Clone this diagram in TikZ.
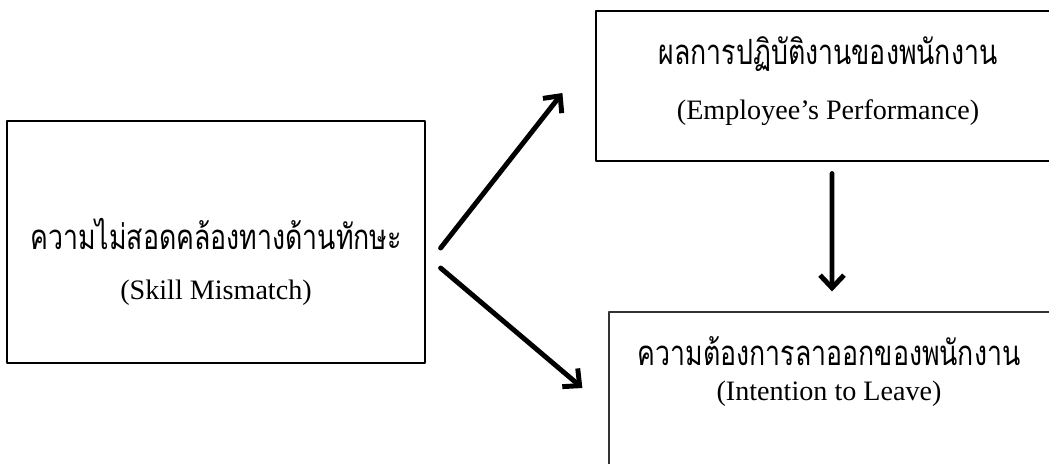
\documentclass[tikz,border=0pt]{standalone}
\usepackage{fontspec}
\usepackage{graphicx}
\setmainfont{Liberation Serif}
\newfontfamily\thaifont[Script=Thai]{Loma}
\newcommand{\thline}[1]{\scalebox{1}[1.3]{#1}}
\usetikzlibrary{arrows.meta,positioning}
\begin{document}
\begin{tikzpicture}[x=0.025cm, y=-0.025cm, line cap=round, line join=round,
    box/.style={draw, line width=0.8pt, inner sep=0pt},
    th/.style={font=\thaifont\fontsize{19}{22}\selectfont},
    en/.style={font=\fontsize{20}{24}\selectfont},
    link/.style={line width=3.5pt, -{Straight Barb[length=9pt,width=17pt]}}]
    \useasboundingbox (0,0) rectangle (1049,463);
    % boxes
    \node[box, minimum width=10.45cm, minimum height=6.05cm] (mismatch) at (216,242) {};
    \node[box, minimum width=11.6cm, minimum height=3.75cm] (perf) at (828,86) {};
    \node[box, draw=black!80, minimum width=11.025cm, minimum height=4.2cm] (leave) at (829.5,396) {};
    % labels
    \node[th] (mismatch-th) at (216,234) {\thline{ความไม่สอดคล้องทางด้านทักษะ}};
    \node[en] (mismatch-en) at (216,293) {(Skill Mismatch)};
    \node[th] (perf-th) at (828,54) {\thline{ผลการปฏิบัติงานของพนักงาน}};
    \node[en] (perf-en) at (828,113) {(Employee’s Performance)};
    \node[th] (leave-th) at (829,351) {\thline{ความต้องการลาออกของพนักงาน}};
    \node[en] (leave-en) at (829,394) {(Intention to Leave)};
    % arrows
    \coordinate (up-s) at ([shift={(15,6)}]mismatch.east);
    \coordinate (up-e) at ([shift={(-33,7)}]perf.west);
    \coordinate (lo-s) at ([shift={(15,26)}]mismatch.east);
    \coordinate (lo-e) at ([shift={(-26,-8)}]leave.west);
    \coordinate (dn-s) at ([shift={(4,12)}]perf.south);
    \coordinate (dn-e) at ([shift={(2.5,-20)}]leave.north);
    \draw[link] (up-s) -- (up-e);
    \draw[link] (lo-s) -- (lo-e);
    \draw[link] (dn-s) -- (dn-e);
\end{tikzpicture}
\end{document}
